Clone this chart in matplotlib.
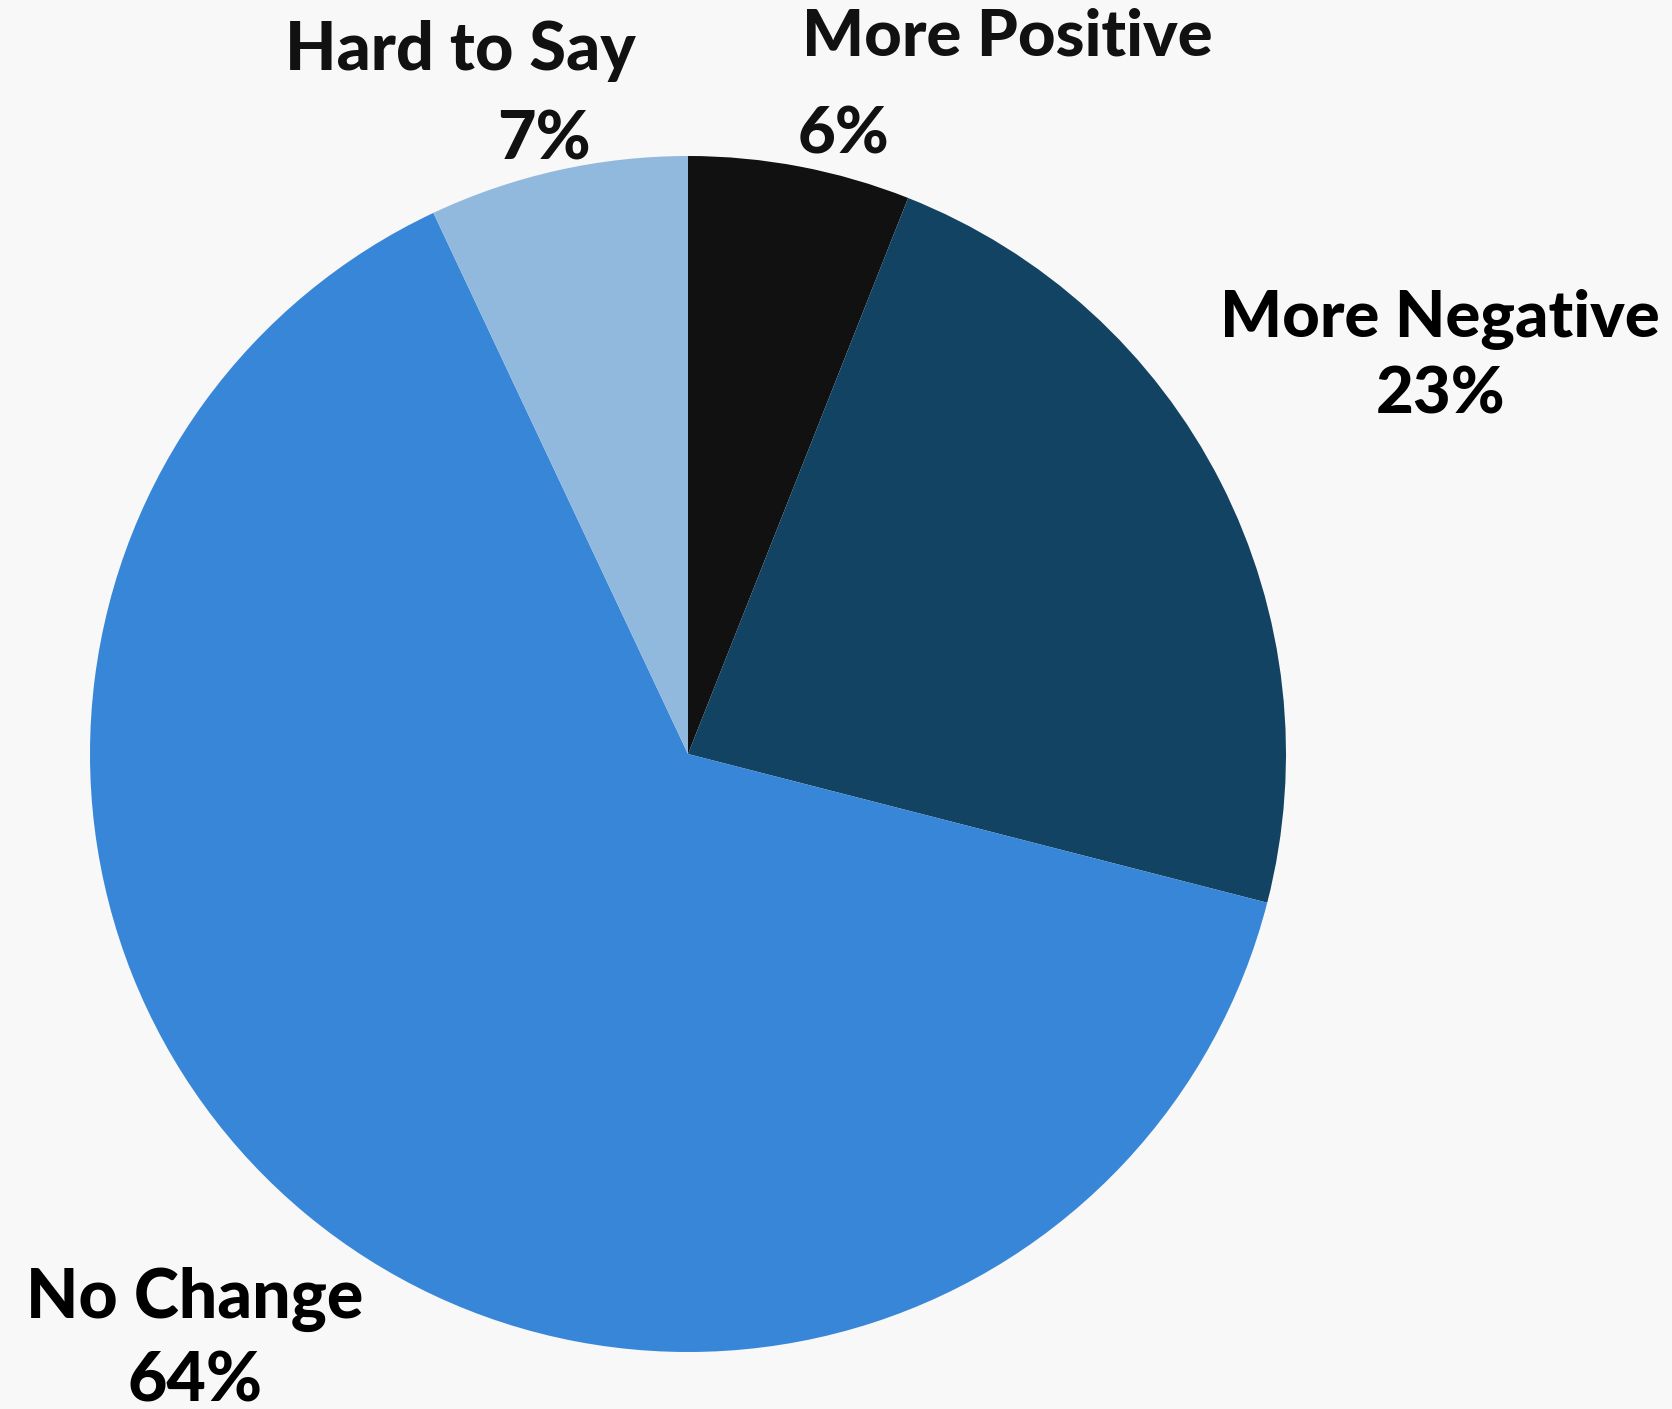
import matplotlib.pyplot as plt

categories = ['More Positive', 'More Negative', 'No Change', 'Hard to Say']
values = [6, 23, 64, 7]
colors = ['#111111', '#134362', '#3786d8', '#91b9de']

W, H = 1672, 1409
cx, cy, r = 688, 754, 598  # pie center / radius in pixels

fig = plt.figure(figsize=(W / 100, H / 100), dpi=100, facecolor='#f8f8f8')
ax = fig.add_axes([(cx - r) / W, (H - cy - r) / H, 2 * r / W, 2 * r / H])
ax.set_facecolor('#f8f8f8')
ax.pie(values, colors=colors, startangle=90, counterclock=False, radius=1,
       wedgeprops=dict(linewidth=0))
ax.set_xlim(-1, 1)
ax.set_ylim(-1, 1)
ax.axis('off')


def px(x, y):
    return (x - cx) / r, (cy - y) / r


# (text, x, y, ha, color, size)
labels = [
    ('Hard to Say', 460, 51, 'center', '#111111', 48),
    (f'{values[3]}%', 544, 140, 'center', '#111111', 48),
    ('More Positive', 802, 37, 'left', '#111111', 47),
    (f'{values[0]}%', 798, 135, 'left', '#111111', 47),
    ('More Negative', 1440, 319, 'center', '#000000', 47),
    (f'{values[1]}%', 1441, 395, 'center', '#000000', 47),
    ('No Change', 195, 1299, 'center', '#000000', 49),
    (f'{values[2]}%', 195, 1382, 'center', '#000000', 49),
]
for txt, x, y, ha, c, fs in labels:
    xd, yd = px(x, y)
    ax.text(xd, yd, txt, ha=ha, va='center', fontsize=fs, fontweight='black',
            color=c, family=['Lato', 'DejaVu Sans'], clip_on=False)

fig.savefig('out.png', dpi=100, facecolor=fig.get_facecolor())
